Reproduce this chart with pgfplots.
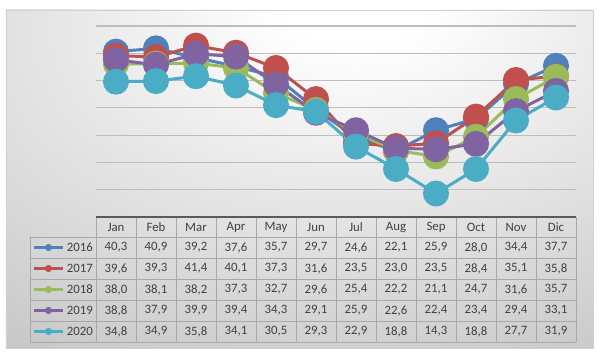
\documentclass[border=0pt]{standalone}
\usepackage{pgfplots}
\usepackage{pgfplotstable}
\pgfplotsset{compat=1.18}
\usepackage{fontspec}
\setmainfont{Carlito}
\definecolor{c16}{HTML}{4F81BD}
\definecolor{c17}{HTML}{C0504D}
\definecolor{c18}{HTML}{9BBB59}
\definecolor{c19}{HTML}{8064A2}
\definecolor{c20}{HTML}{4BACC6}
\definecolor{bgout}{HTML}{C6C6C6}
\definecolor{gridc}{HTML}{BDBDBD}
\definecolor{textc}{HTML}{404040}
\definecolor{cellc}{HTML}{A8A8A8}
\definecolor{topc}{HTML}{5A5A5A}
\pgfdeclareradialshading{bgshade}{\pgfpoint{5bp}{28bp}}{color(0bp)=(white); color(6bp)=(white); color(50bp)=(bgout); color(110bp)=(bgout)}

\pgfplotstableread{
m y2016 y2017 y2018 y2019 y2020
0 40.3 39.6 38.0 38.8 34.8
1 40.9 39.3 38.1 37.9 34.9
2 39.2 41.4 38.2 39.9 35.8
3 37.6 40.1 37.3 39.4 34.1
4 35.7 37.3 32.7 34.3 30.5
5 29.7 31.6 29.6 29.1 29.3
6 24.6 23.5 25.4 25.9 22.9
7 22.1 23.0 22.2 22.6 18.8
8 25.9 23.5 21.1 22.4 14.3
9 28.0 28.4 24.7 23.4 18.8
10 34.4 35.1 31.6 29.4 27.7
11 37.7 35.8 35.7 33.1 31.9
}\datatable

\begin{document}
\begin{tikzpicture}
\useasboundingbox (-96bp,-140bp) rectangle (504bp,217bp);
\shade[shading=bgshade] (-90bp,-131bp) rectangle (497bp,207bp);
\draw[color=gridc!70, line width=0.8bp] (-90bp,-131bp) rectangle (497bp,207bp);
\begin{axis}[
  at={(0,0)}, anchor=south west,
  scale only axis, width=480bp, height=191bp,
  xmin=-0.5, xmax=11.5, ymin=10, ymax=45,
  clip=false,
  axis line style={draw=none},
  xtick=\empty,
  ytick={15,20,...,45}, yticklabels={},
  major tick length=0pt,
  ymajorgrids,
  grid style={color=gridc, line width=1.1bp},
  every axis plot/.append style={line width=3bp, mark=*, mark size=11.5bp, mark options={line width=0.5bp}},
]
\addplot[color=c16, mark options={fill=c16}] table[x=m, y=y2016] {\datatable};
\addplot[color=c17, mark options={fill=c17}] table[x=m, y=y2017] {\datatable};
\addplot[color=c18, mark options={fill=c18}] table[x=m, y=y2018] {\datatable};
\addplot[color=c19, mark options={fill=c19}] table[x=m, y=y2019] {\datatable};
\addplot[color=c20, mark options={fill=c20}] table[x=m, y=y2020] {\datatable};
\end{axis}
% data table
\begin{scope}[font=\fontsize{12.8bp}{15bp}\selectfont, text=textc]
\foreach \yy in {-20,-41,-62,-83,-104,-125}
  \draw[color=cellc, line width=0.8bp] (-66bp,\yy bp) -- (480bp,\yy bp);
\draw[color=cellc, line width=0.8bp] (-66bp,-20bp) -- (-66bp,-125bp);
\foreach \i in {0,...,12}
  \draw[color=cellc, line width=0.8bp] (40*\i bp,0bp) -- (40*\i bp,-125bp);
\draw[color=topc, line width=1.4bp] (0bp,0bp) -- (480bp,0bp);
\foreach \mo [count=\i from 0] in {Jan,Feb,Mar,Apr,May,Jun,Jul,Aug,Sep,Oct,Nov,Dic}
  \node[inner sep=0pt] at (20bp+40*\i bp,-10bp) {\mo};
\foreach \col/\yr/\cc [count=\k from 0] in {y2016/2016/c16, y2017/2017/c17, y2018/2018/c18, y2019/2019/c19, y2020/2020/c20}{
  \draw[color=\cc, line width=2.5bp] (-62bp,-30.5bp-21*\k bp) -- (-33bp,-30.5bp-21*\k bp);
  \fill[color=\cc] (-47.5bp,-30.5bp-21*\k bp) circle (3.6bp);
  \node[anchor=east, inner sep=0pt] at (-3bp,-30.5bp-21*\k bp) {\yr};
  \foreach \i in {0,...,11}
    \node[inner sep=0pt] at (20bp+40*\i bp,-30.5bp-21*\k bp)
      {\pgfplotstablegetelem{\i}{\col}\of\datatable\pgfmathprintnumber[fixed,fixed zerofill,precision=1,use comma,assume math mode=true]{\pgfplotsretval}};
}
\end{scope}
\end{tikzpicture}
\end{document}
